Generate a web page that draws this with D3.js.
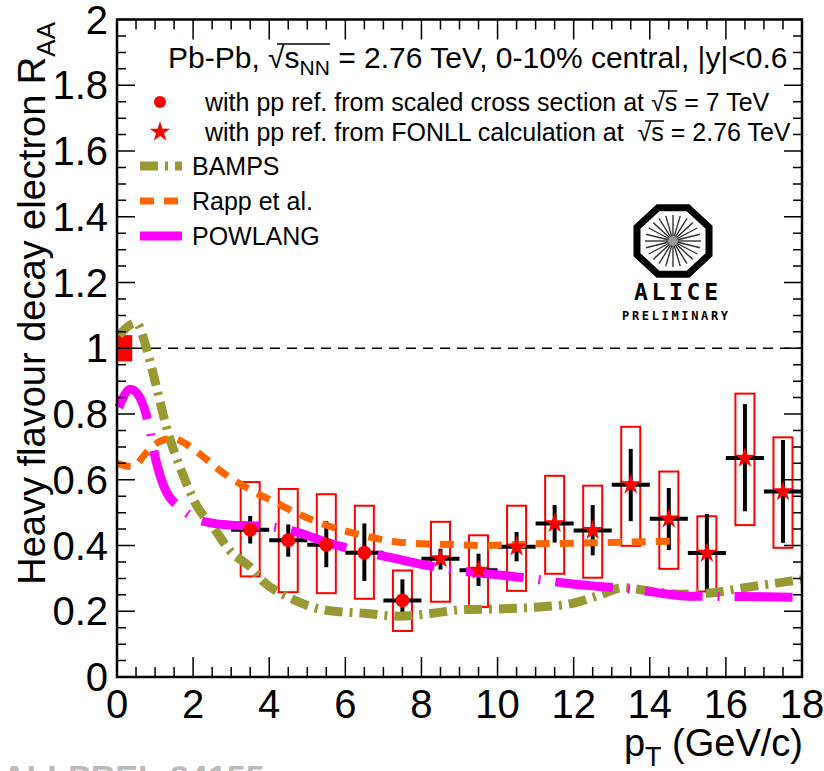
<!DOCTYPE html>
<html>
<head>
<meta charset="utf-8">
<script src="https://cdn.jsdelivr.net/npm/d3@7"></script>
<style>
  body { margin: 0; background: #fff; }
  svg { font-family: 'Liberation Sans', Arial, sans-serif; }
</style>
</head>
<body>
<div id="chart"></div>
<script>
// data points (pT bin centres) and uncertainties
var pt = [3.5, 4.5, 5.5, 6.5, 7.5, 8.5, 9.5, 10.5, 11.5, 12.5, 13.5, 14.5, 15.5, 16.5, 17.5]
var raa = [0.448, 0.416, 0.402, 0.378, 0.233, 0.36, 0.325, 0.396, 0.467, 0.446, 0.585, 0.481, 0.377, 0.666, 0.564]
var statLow = [0.406, 0.366, 0.334, 0.292, 0.196, 0.327, 0.277, 0.352, 0.409, 0.37, 0.474, 0.386, 0.26, 0.504, 0.408]
var statHigh = [0.49, 0.464, 0.474, 0.467, 0.297, 0.39, 0.375, 0.441, 0.523, 0.523, 0.694, 0.575, 0.496, 0.83, 0.721]
var sysLow = [0.306, 0.258, 0.255, 0.238, 0.14, 0.229, 0.213, 0.262, 0.314, 0.302, 0.399, 0.329, 0.26, 0.462, 0.393]
var sysHigh = [0.593, 0.572, 0.556, 0.521, 0.324, 0.472, 0.431, 0.521, 0.612, 0.582, 0.761, 0.625, 0.489, 0.862, 0.729]
var ppRef = ['scaled', 'scaled', 'scaled', 'scaled', 'scaled', 'fonll', 'fonll', 'fonll', 'fonll', 'fonll', 'fonll', 'fonll', 'fonll', 'fonll', 'fonll']
var binHalfWidth = 0.5
var sysHalfWidth = 0.25

// normalisation uncertainty box at RAA = 1
var normPt = [0.03, 0.4]
var normRaa = [0.96, 1.04]

// model curves
var bampsPt = [0.05, 0.5, 0.8, 1.0, 1.3, 1.75, 2.1, 2.5, 3.0, 3.5, 3.85, 4.5, 5.5, 6.5, 7.4, 8.3, 9.1, 10.0, 11.0, 12.0, 12.7, 13.3, 13.9, 14.8, 15.7, 16.5, 17.6, 18.0]
var bampsRaa = [1.04, 1.077, 0.99, 0.9, 0.76, 0.61, 0.52, 0.46, 0.38, 0.335, 0.29, 0.243, 0.203, 0.194, 0.185, 0.194, 0.205, 0.207, 0.212, 0.225, 0.25, 0.272, 0.263, 0.252, 0.257, 0.272, 0.29, 0.297]
var rappPt = [0.0, 0.4, 0.8, 1.1, 1.45, 1.8, 2.2, 2.8, 3.5, 4.2, 4.9, 5.7, 6.2, 7.6, 8.8, 9.6, 11.0, 12.5, 13.4, 14.8]
var rappRaa = [0.65, 0.64, 0.686, 0.715, 0.726, 0.71, 0.676, 0.62, 0.57, 0.529, 0.489, 0.454, 0.438, 0.408, 0.403, 0.4, 0.405, 0.408, 0.41, 0.414]
var powlangPt = [0.05, 0.35, 0.6, 0.85, 1.0, 1.25, 1.7, 2.1, 2.5, 3.0, 3.5, 4.1, 4.8, 5.5, 6.3, 7.2, 8.0, 8.7, 9.5, 10.3, 11.1, 11.8, 12.7, 13.5, 14.3, 15.0, 16.0, 17.0, 18.0]
var powlangRaa = [0.82, 0.875, 0.85, 0.76, 0.67, 0.575, 0.512, 0.48, 0.468, 0.462, 0.46, 0.456, 0.438, 0.41, 0.385, 0.363, 0.343, 0.327, 0.317, 0.307, 0.296, 0.285, 0.275, 0.267, 0.255, 0.246, 0.245, 0.244, 0.242]

var models = [
  { name: 'BAMPS', pt: bampsPt, raa: bampsRaa, color: '#999933', width: 9, dash: '18,7,3,7' },
  { name: 'Rapp et al.', pt: rappPt, raa: rappRaa, color: '#ff6600', width: 7, dash: '14,10' },
  { name: 'POWLANG', pt: powlangPt, raa: powlangRaa, color: '#ff00ff', width: 9, dash: '58,15,2,15' }
]

var xTicks = [0, 2, 4, 6, 8, 10, 12, 14, 16, 18]
var yTicks = [0, 0.2, 0.4, 0.6, 0.8, 1, 1.2, 1.4, 1.6, 1.8, 2]

// layout
var margin = { top: 19.5, left: 117, right: 22, bottom: 94 }
var totalWidth = 824
var totalHeight = 771
var width = totalWidth - margin.left - margin.right
var height = totalHeight - margin.top - margin.bottom

var svg = d3.select('#chart')
  .append('svg')
  .attr('width', totalWidth)
  .attr('height', totalHeight)

var g = svg.append('g')
  .attr('transform', 'translate(' + margin.left + ',' + margin.top + ')')

var x = d3.scaleLinear().domain([0, 18]).range([0, width])
var y = d3.scaleLinear().domain([0, 2]).range([height, 0])

// reference line at 1
g.append('line')
  .attr('x1', 0).attr('x2', width)
  .attr('y1', y(1)).attr('y2', y(1))
  .attr('stroke', 'black')
  .attr('stroke-width', 1.5)
  .attr('stroke-dasharray', '10,7')

g.append('rect')
  .attr('x', x(normPt[0]))
  .attr('width', x(normPt[1]) - x(normPt[0]))
  .attr('y', y(normRaa[1]))
  .attr('height', y(normRaa[0]) - y(normRaa[1]))
  .attr('fill', '#ff0000')

var points = pt.map(function(d, i) {
  return { pt: d, raa: raa[i], sLo: statLow[i], sHi: statHigh[i], yLo: sysLow[i], yHi: sysHigh[i], ref: ppRef[i] }
})

// systematic boxes
g.selectAll('.sys')
  .data(points)
  .enter()
  .append('rect')
  .attr('class', 'sys')
  .attr('x', d => x(d.pt - sysHalfWidth))
  .attr('width', d => x(d.pt + sysHalfWidth) - x(d.pt - sysHalfWidth))
  .attr('y', d => y(d.yHi))
  .attr('height', d => y(d.yLo) - y(d.yHi))
  .attr('fill', 'none')
  .attr('stroke', '#ff0000')
  .attr('stroke-width', 2)

// stat errors and bin widths
g.selectAll('.stat')
  .data(points)
  .enter()
  .append('line')
  .attr('class', 'stat')
  .attr('x1', d => x(d.pt)).attr('x2', d => x(d.pt))
  .attr('y1', d => y(d.sHi)).attr('y2', d => y(d.sLo))
  .attr('stroke', 'black')
  .attr('stroke-width', 4)

g.selectAll('.bin')
  .data(points)
  .enter()
  .append('line')
  .attr('class', 'bin')
  .attr('x1', d => x(d.pt - binHalfWidth)).attr('x2', d => x(d.pt + binHalfWidth))
  .attr('y1', d => y(d.raa)).attr('y2', d => y(d.raa))
  .attr('stroke', 'black')
  .attr('stroke-width', 4)

// model curves
var line = d3.line()
  .x(d => x(d[0]))
  .y(d => y(d[1]))
  .curve(d3.curveMonotoneX)

models.forEach(function(m) {
  g.append('path')
    .datum(m.pt.map((p, i) => [p, m.raa[i]]))
    .attr('d', line)
    .attr('fill', 'none')
    .attr('stroke', m.color)
    .attr('stroke-width', m.width)
    .attr('stroke-dasharray', m.dash)
})

// markers
var star = d3.symbol().type(d3.symbolStar).size(130)

g.selectAll('.circ')
  .data(points.filter(d => d.ref === 'scaled'))
  .enter()
  .append('circle')
  .attr('cx', d => x(d.pt))
  .attr('cy', d => y(d.raa))
  .attr('r', 7)
  .attr('fill', '#ff0000')

g.selectAll('.star')
  .data(points.filter(d => d.ref === 'fonll'))
  .enter()
  .append('path')
  .attr('d', star)
  .attr('transform', d => 'translate(' + x(d.pt) + ',' + y(d.raa) + ')')
  .attr('fill', '#ff0000')

// axes frame and ticks (ROOT style, inside)
var frame = g.append('g')
frame.append('rect')
  .attr('width', width).attr('height', height)
  .attr('fill', 'none').attr('stroke', 'black').attr('stroke-width', 2.5)

var xMinor = d3.range(0, 18.01, 0.5)
var yMinor = d3.range(0, 2.001, 0.05)

frame.selectAll('.xt')
  .data(xMinor)
  .enter()
  .append('path')
  .attr('d', function(d) {
    var len = Math.abs(d % 2) < 1e-6 ? 20 : 10
    return 'M' + x(d) + ',' + height + 'v' + (-len) + 'M' + x(d) + ',0v' + len
  })
  .attr('stroke', 'black').attr('stroke-width', 1.5)

frame.selectAll('.yt')
  .data(yMinor)
  .enter()
  .append('path')
  .attr('d', function(d) {
    var major = Math.abs(Math.round(d * 5) - d * 5) < 1e-6
    var len = major ? 18 : 9
    return 'M0,' + y(d) + 'h' + len + 'M' + width + ',' + y(d) + 'h' + (-len)
  })
  .attr('stroke', 'black').attr('stroke-width', 1.5)

g.selectAll('.xl')
  .data(xTicks)
  .enter()
  .append('text')
  .attr('x', d => x(d))
  .attr('y', height + 41)
  .attr('text-anchor', 'middle')
  .attr('font-size', 40)
  .text(d => d)

g.selectAll('.yl')
  .data(yTicks)
  .enter()
  .append('text')
  .attr('x', -9)
  .attr('y', d => y(d) + 14)
  .attr('text-anchor', 'end')
  .attr('font-size', 40)
  .text(d => d)

// axis titles
var xTitle = svg.append('text')
  .attr('x', 803)
  .attr('y', 756)
  .attr('text-anchor', 'end')
  .attr('font-size', 38)
xTitle.append('tspan').text('p')
xTitle.append('tspan').attr('font-size', 27).attr('dy', 10).text('T')
xTitle.append('tspan').attr('dy', -10).text(' (GeV/c)')

var yTitle = svg.append('text')
  .attr('transform', 'translate(45,22) rotate(-90)')
  .attr('text-anchor', 'end')
  .attr('font-size', 38)
yTitle.append('tspan').text('Heavy flavour decay electron R')
yTitle.append('tspan').attr('font-size', 26).attr('dy', 10).text('AA')

// header with sqrt(s_NN)
function sqrtText(sel, xPos, yPos, size, before, sub, after) {
  var t = sel.append('text')
    .attr('x', xPos).attr('y', yPos)
    .attr('font-size', size)
    .style('white-space', 'pre')
  t.append('tspan').text(before)
  t.append('tspan').text('\u221A')
  t.append('tspan').text('s')
  if (sub) t.append('tspan').attr('font-size', size * 0.7).attr('dy', size * 0.22).text(sub)
  t.append('tspan').attr('dy', sub ? -size * 0.22 : 0).text(after)
  var n = before.length
  var node = t.node()
  var x0 = node.getStartPositionOfChar(n).x + size * 0.3
  var x1 = sub ? node.getEndPositionOfChar(n + 1 + sub.length).x : node.getEndPositionOfChar(n + 1).x
  sel.append('line')
    .attr('x1', x0).attr('x2', x1)
    .attr('y1', yPos - size * 0.8).attr('y2', yPos - size * 0.8)
    .attr('stroke', 'black').attr('stroke-width', 1.5)
  return t
}

sqrtText(svg, 168, 68, 30, 'Pb-Pb, ', 'NN', ' = 2.76 TeV, 0-10% central, |y|<0.6')
sqrtText(svg, 205, 111, 25, 'with pp ref. from scaled cross section at ', null, ' = 7 TeV')
sqrtText(svg, 205, 141, 25, 'with pp ref. from FONLL calculation at  ', null, ' = 2.76 TeV')

svg.append('circle').attr('cx', 160).attr('cy', 102).attr('r', 6).attr('fill', '#ff0000')
svg.append('path').attr('d', star).attr('transform', 'translate(160,132)').attr('fill', '#ff0000')

// model legend
var legend = svg.selectAll('.leg')
  .data(models)
  .enter()
  .append('g')
  .attr('transform', (d, i) => 'translate(140,' + (166 + i * 35) + ')')

legend.append('line')
  .attr('x1', 0).attr('x2', 42)
  .attr('stroke', d => d.color)
  .attr('stroke-width', d => d.width)
  .attr('stroke-dasharray', (d, i) => i === 2 ? null : d.dash)

legend.append('text')
  .attr('x', 52)
  .attr('y', 9)
  .attr('font-size', 25)
  .text(d => d.name)

// ALICE logo
var logo = svg.append('g').attr('transform', 'translate(673,241)')
var oct = d3.range(8).map(function(i) {
  var a = Math.PI / 8 + i * Math.PI / 4
  return [39 * Math.cos(a), 36 * Math.sin(a)]
})
logo.append('path')
  .attr('d', 'M' + oct.join('L') + 'Z')
  .attr('fill', 'white').attr('stroke', 'black').attr('stroke-width', 7)
logo.selectAll('.spoke')
  .data(d3.range(24))
  .enter()
  .append('line')
  .attr('x1', d => 4 * Math.cos(d * Math.PI / 12))
  .attr('y1', d => 4 * Math.sin(d * Math.PI / 12))
  .attr('x2', d => 28 * Math.cos(d * Math.PI / 12))
  .attr('y2', d => 26 * Math.sin(d * Math.PI / 12))
  .attr('stroke', '#333').attr('stroke-width', 1.4)
logo.append('circle').attr('r', 5).attr('fill', '#999')
svg.append('text')
  .attr('x', 676).attr('y', 300)
  .attr('text-anchor', 'middle')
  .attr('font-family', 'DejaVu Sans Mono')
  .attr('font-weight', 'bold')
  .attr('font-size', 23)
  .attr('textLength', 84)
  .text('ALICE')
svg.append('text')
  .attr('x', 675).attr('y', 320)
  .attr('text-anchor', 'middle')
  .attr('font-family', 'DejaVu Sans Mono')
  .attr('font-weight', 'bold')
  .attr('font-size', 12)
  .attr('textLength', 106)
  .text('PRELIMINARY')

// cut-off watermark at the bottom
svg.append('text')
  .attr('x', 2).attr('y', 789)
  .attr('font-size', 34)
  .attr('font-weight', 'bold')
  .attr('fill', '#bbbbbb')
  .text('ALI-PREL-34155')
</script>
</body>
</html>
